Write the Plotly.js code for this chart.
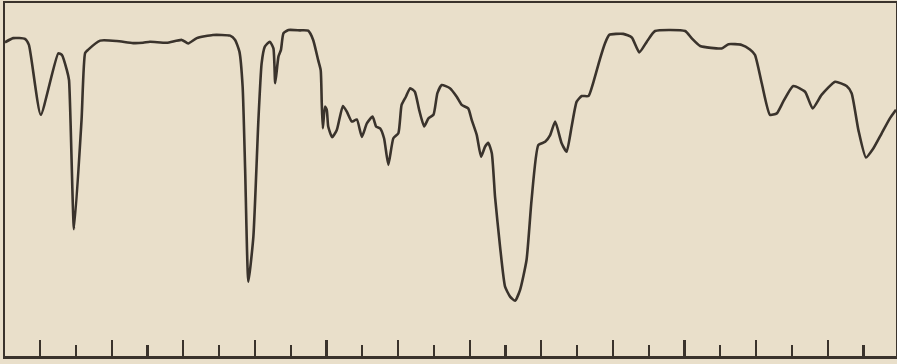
<!DOCTYPE html>
<html>
<head>
<meta charset="utf-8">
<script src="https://cdn.plot.ly/plotly-3.0.1.min.js"></script>
<style>
  html, body { margin: 0; padding: 0; background: #e9dfca; }
  #chart { width: 897px; height: 364px; }
</style>
</head>
<body>
<div id="chart"></div>
<script>
// Position along the scan, in tick intervals (tick 0 = first tick mark)
const position = [
  -0.98, -0.75, -0.42, -0.31, 0.02, 0.51, 0.61, 0.75, 0.81, 0.95,
  1.16, 1.26, 1.34, 1.68, 2.14, 2.60, 2.88, 3.07, 3.54, 3.96,
  4.14, 4.38, 4.83, 5.31, 5.45, 5.57, 5.66, 5.73, 5.82, 5.96,
  6.10, 6.19, 6.28, 6.42, 6.52, 6.57, 6.66, 6.73, 6.80, 6.94,
  7.26, 7.49, 7.63, 7.77, 7.84, 7.87, 7.90, 7.96, 8.01, 8.05,
  8.16, 8.29, 8.46, 8.57, 8.71, 8.85, 8.99, 9.13, 9.29, 9.39,
  9.50, 9.61, 9.73, 9.87, 10.01, 10.10, 10.22, 10.34, 10.47, 10.59,
  10.73, 10.85, 10.99, 11.10, 11.22, 11.45, 11.64, 11.78, 11.96, 12.06,
  12.20, 12.32, 12.43, 12.52, 12.62, 12.71, 12.85, 12.99, 13.13, 13.27,
  13.41, 13.59, 13.73, 13.92, 14.11, 14.25, 14.39, 14.57, 14.71, 14.85,
  14.99, 15.13, 15.32, 15.46, 15.64, 15.78, 15.90, 16.29, 16.53, 16.74,
  16.95, 17.18, 18.02, 18.20, 18.44, 19.04, 19.23, 19.60, 19.83, 19.97,
  20.16, 20.39, 20.58, 20.76, 21.04, 21.37, 21.58, 21.83, 22.21, 22.53,
  22.67, 22.86, 23.07, 23.28, 23.51, 23.74, 23.91
];
// Transmittance (%)
const transmittance = [
  88.9, 90.1, 89.9, 88.2, 68.5, 85.8, 85.4, 81.1, 78.3, 36.3,
  67.0, 85.9, 86.8, 89.4, 89.3, 88.7, 88.8, 89.1, 88.8, 89.6,
  88.6, 90.1, 91.0, 90.8, 89.6, 86.3, 76.4, 53.0, 21.5, 34.2,
  67.0, 83.0, 87.7, 89.1, 87.2, 77.4, 84.9, 86.8, 91.5, 92.4,
  92.3, 92.2, 89.6, 83.9, 81.1, 71.8, 64.7, 70.8, 69.9, 65.2,
  62.2, 64.2, 71.0, 69.4, 66.6, 67.2, 62.3, 66.1, 68.0, 65.2,
  64.7, 61.9, 54.4, 61.9, 63.3, 71.3, 73.6, 76.0, 75.0, 69.9,
  65.2, 67.5, 68.5, 74.6, 76.9, 76.0, 73.6, 71.3, 70.3, 67.0,
  62.8, 56.7, 59.5, 60.6, 57.7, 45.4, 31.4, 20.1, 17.3, 16.1,
  19.2, 27.6, 44.5, 60.0, 60.9, 62.8, 66.6, 60.5, 58.1, 65.2,
  72.2, 73.8, 73.8, 77.8, 84.2, 88.6, 91.0, 91.3, 90.3, 86.1,
  89.1, 92.1, 92.1, 90.1, 87.9, 87.2, 88.4, 88.2, 86.9, 85.4,
  77.4, 68.5, 68.9, 72.2, 76.6, 75.0, 70.3, 74.1, 77.8, 76.6,
  74.6, 64.2, 56.5, 59.1, 63.3, 67.5, 69.9
];

const ink = '#3a332c';
const paper = '#e9dfca';

const trace = {
  x: position,
  y: transmittance,
  type: 'scatter',
  mode: 'lines',
  line: { color: ink, width: 2.6, shape: 'spline', smoothing: 0.5 },
  hoverinfo: 'skip'
};

const layout = {
  width: 897,
  height: 364,
  margin: { l: 5, r: 1, t: 3, b: 8 },
  paper_bgcolor: paper,
  plot_bgcolor: paper,
  showlegend: false,
  xaxis: {
    range: [-0.978, 23.91],
    showgrid: false,
    zeroline: false,
    showline: true,
    linecolor: ink,
    linewidth: 2.5,
    mirror: true,
    showticklabels: false,
    ticks: 'inside',
    tick0: 0,
    dtick: 2,
    ticklen: 16,
    tickwidth: 2.2,
    tickcolor: ink,
    minor: { ticks: 'inside', tick0: 0, dtick: 1, ticklen: 11, tickwidth: 2.2, tickcolor: ink, showgrid: false }
  },
  yaxis: {
    range: [0.56, 100],
    showgrid: false,
    zeroline: false,
    showline: true,
    linecolor: ink,
    linewidth: 2.5,
    mirror: true,
    showticklabels: false,
    ticks: ''
  }
};

Plotly.newPlot('chart', [trace], layout, { staticPlot: true, displayModeBar: false });
</script>
</body>
</html>
